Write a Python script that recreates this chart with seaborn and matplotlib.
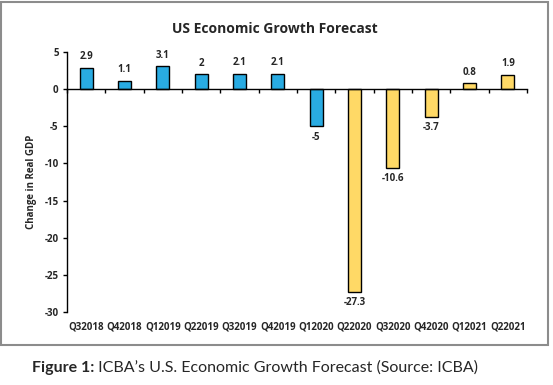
import matplotlib
matplotlib.use("Agg")
import matplotlib.pyplot as plt
from matplotlib.patches import Rectangle
import seaborn as sns
import pandas as pd
import numpy as np

# Data
quarters = ["Q32018", "Q42018", "Q12019", "Q22019", "Q32019", "Q42019",
            "Q12020", "Q22020", "Q32020", "Q42020", "Q12021", "Q22021"]
gdp_change = [2.9, 1.1, 3.1, 2, 2.1, 2.1, -5, -27.3, -10.6, -3.7, 0.8, 1.9]
kind = ["actual"] * 7 + ["forecast"] * 5
value_labels = ["2.9", "1.1", "3.1", "2", "2.1", "2.1", "-5", "-27.3",
                "-10.6", "-3.7", "0.8", "1.9"]
y_ticks = [5, 0, -5, -10, -15, -20, -25, -30]

df = pd.DataFrame({"quarter": quarters, "change": gdp_change, "kind": kind})

sns.set_style("white")
plt.rcParams["font.family"] = ["Open Sans", "DejaVu Sans"]

fig = plt.figure(figsize=(5.53, 3.85), dpi=100)
ax = fig.add_axes([67 / 553, 1 - 312 / 385, (527 - 67) / 553, (312 - 52) / 385])

sns.barplot(data=df, x="quarter", y="change", hue="kind",
            palette={"actual": "#29ABE2", "forecast": "#FFD966"},
            saturation=1, dodge=False, width=0.34, edgecolor="black",
            linewidth=1.0, legend=False, ax=ax)

# value labels above / below each bar
for container in ax.containers:
    labels = []
    for bar in container:
        h = bar.get_height()
        x = bar.get_x() + bar.get_width() / 2
        i = int(round(x))
        labels.append(value_labels[i] if not np.isnan(h) else "")
    ax.bar_label(container, labels=labels, padding=4, fontsize=7,
                 fontweight="bold")

ax.set_ylim(-30, 5)
ax.set_xlim(-0.5, 11.5)
ax.set_yticks(y_ticks)
ax.set_yticklabels([str(v) for v in y_ticks], fontsize=7, fontweight="bold")
ax.tick_params(axis="y", direction="out", length=3, width=1, color="black",
               left=True, pad=3)

# bottom spine through zero with ticks between categories
ax.spines["bottom"].set_position(("data", 0))
ax.set_xticks(np.arange(-0.5, 12, 1))
ax.set_xticklabels([])
ax.tick_params(axis="x", direction="out", length=3, width=1, color="black",
               bottom=True)
for side in ["top", "right"]:
    ax.spines[side].set_visible(False)
for side in ["left", "bottom"]:
    ax.spines[side].set_color("black")
    ax.spines[side].set_linewidth(1)
ax.set_xlabel("")
ax.set_ylabel("Change in Real GDP", fontsize=7, fontweight="bold", labelpad=5)

# category labels at the bottom of the plot area
sec = ax.secondary_xaxis("bottom")
sec.set_xticks(range(len(quarters)))
sec.set_xticklabels(quarters, fontsize=7, fontweight="bold")
sec.tick_params(length=0, pad=7)
sec.spines["bottom"].set_visible(False)

fig.text(275 / 553, 1 - 29 / 385, "US Economic Growth Forecast",
         ha="center", va="center", fontsize=10, fontweight="bold")

# outer frame
fig.patches.append(Rectangle((1 / 553, 1 - 345 / 385), 547 / 553, 343 / 385,
                             transform=fig.transFigure, fill=False,
                             edgecolor="#8c8c8c", linewidth=1.5))

# caption
t1 = fig.text(32 / 553, 1 - 368 / 385, "Figure 1:", fontsize=11.5,
              fontweight="bold", va="center", ha="left", family="Lato")
ax.annotate(" ICBA\u2019s U.S. Economic Growth Forecast (Source: ICBA)",
            xy=(1, 0.5), xycoords=t1, va="center", ha="left", fontsize=11.5,
            family="Lato", annotation_clip=False)

fig.savefig("out.png", dpi=100)
